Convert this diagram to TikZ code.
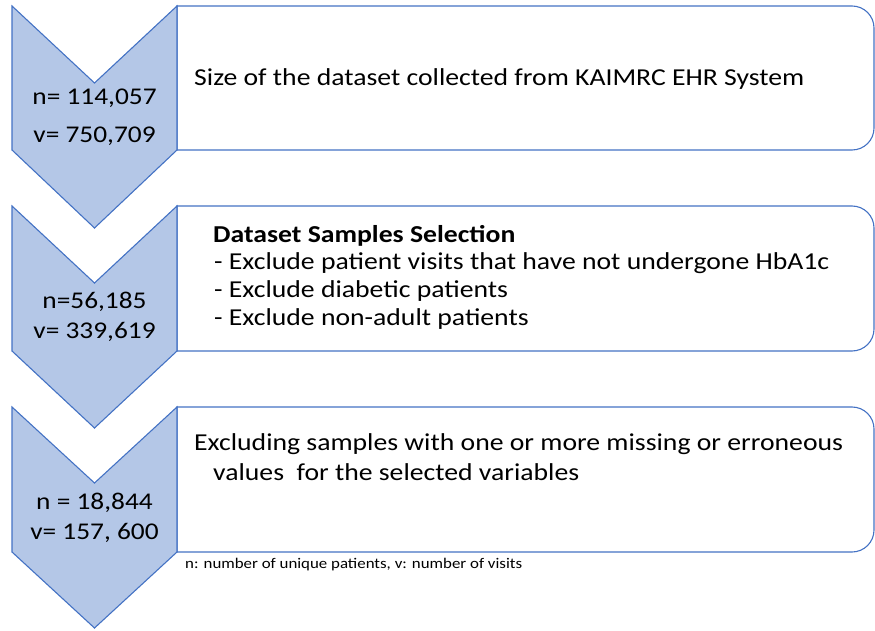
\documentclass[tikz,border=0pt]{standalone}
\usepackage{fontspec}
\setmainfont[FakeStretch=1.14]{Carlito}
\definecolor{chevfill}{HTML}{B4C7E7}
\definecolor{chevline}{HTML}{4472C4}
\tikzset{
  chevron/.style={fill=chevfill,draw=chevline,line width=1.1pt,line join=miter},
  stagebox/.style={draw=chevline,line width=1.1pt,fill=white},
  bodytext/.style={anchor=base west,inner sep=0pt,font=\fontsize{24.3}{28}\selectfont},
  numtext/.style={anchor=base,inner sep=0pt,font=\fontsize{24}{28}\selectfont},
  notetext/.style={anchor=base west,inner sep=0pt,font=\fontsize{14.8}{17}\selectfont},
}
\begin{document}
\begin{tikzpicture}[x=1pt,y=1pt]
\useasboundingbox (0,0) rectangle (875,630);
% boxes
\foreach \t/\b in {624/480,424/279,223/78}{
  \path[stagebox] (177,\t) -- (852,\t) arc[start angle=90,end angle=0,radius=22] -- (874,\b+22) arc[start angle=0,end angle=-90,radius=22] -- (177,\b) -- cycle;
}
% chevrons
\foreach \t/\n/\b/\p in {624/547/480/402,424/347/279/202,223/147/78/2}{
  \path[chevron] (12,\t) -- (94.5,\n) -- (177,\t) -- (177,\b) -- (94.5,\p) -- (12,\b) -- cycle;
}
% chevron numbers
\node[numtext] (n1) at (94.5,525) {n= 114,057};
\node[numtext] (v1) at (94.5,487) {v= 750,709};
\node[numtext] (n2) at (94.5,321) {n=56,185};
\node[numtext] (v2) at (94.5,291) {v= 339,619};
\node[numtext] (n3) at (94.5,121) {n = 18,844};
\node[numtext] (v3) at (94.5,91) {v= 157, 600};
% box texts
\node[bodytext] (t1) at (194,544) {Size of the dataset collected from KAIMRC EHR System};
\node[bodytext,font=\fontsize{24.3}{28}\selectfont\bfseries] (t2h) at (213,387) {Dataset Samples Selection};
\node[bodytext] (t2a) at (214,360) {- Exclude patient visits that have not undergone HbA1c};
\node[bodytext] (t2b) at (214,332) {- Exclude diabetic patients};
\node[bodytext] (t2c) at (214,305) {- Exclude non-adult patients};
\node[bodytext] (t3a) at (194,180) {Excluding samples with one or more missing or erroneous};
\node[bodytext] (t3b) at (213,150) {values\ \ for the selected variables};
\node[notetext] (note) at (185,62) {n: number of unique patients, v: number of visits};
\end{tikzpicture}
\end{document}
